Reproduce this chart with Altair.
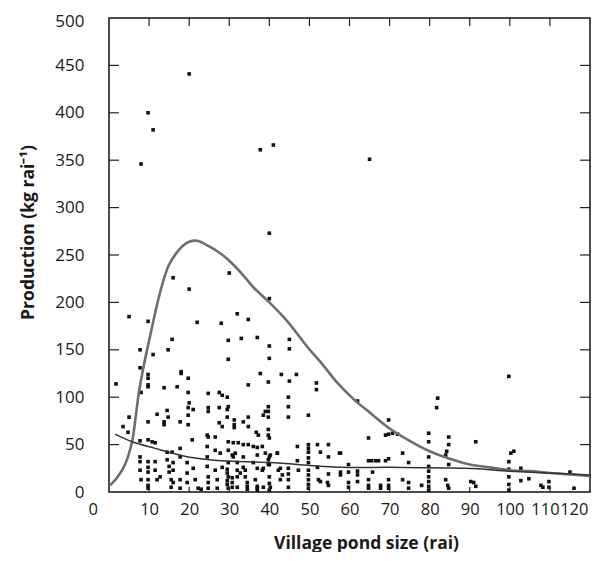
import altair as alt
import pandas as pd

# ---- data ----
pond_x = [20, 9.75, 11, 8, 37.75, 41, 40, 65,
          16, 30, 20, 40, 5, 9.75, 22, 28, 32, 34.75, 15.75, 29.75, 33, 37, 40, 45, 45, 7.75, 14.75, 11, 7.75,
          29.75, 40, 18, 18, 19.75, 37.75, 43, 46.75, 9.75, 9.75, 9.75, 9.75, 1.75, 8, 13.75, 17, 19.75, 24.75,
          27.5, 28.25, 29.5, 34.75, 39.75, 45, 44.75, 51.75, 51.75, 20, 19.75, 19.75, 14.5, 14.75, 12, 5, 3.5,
          4.75, 9.75, 13.75, 13.75, 17.75, 19.75, 21, 24.75, 24.75, 27.5, 27.5, 28.25, 29.5, 29.5, 29.75, 31.25,
          31.25, 31.25, 33.5, 34.75, 34.75, 39, 39.75, 39.75, 39.75, 38.5, 44.75, 44.75, 49.75, 36.75, 37.25,
          39.75, 39.75, 40, 24.5, 24.75, 26.5, 20.75, 29.75, 31, 32.25, 33.5, 36, 38.25, 7.75, 9.75, 10.75, 11.5,
          14.5, 15.75, 17.75, 47, 49.75, 49.75, 49.75, 52, 54.75, 54.75, 57.5, 52.75, 34.75, 37, 37, 39, 40.25,
          42, 39.75, 39.75, 30.75, 31, 47, 49.75,
          82, 81.75, 62, 69.75, 69, 69.75, 70.75, 72, 64.75, 79.75, 79.75, 84.75, 84.75, 84.25, 57.75, 73.25,
          64.75, 65.5, 66.5, 67.25, 69, 69.75, 79.75, 84, 59.75, 74.75, 91.5, 99.75, 100.25, 101, 84.75,
          7.75, 7.75, 7.75, 8, 9.75, 9.75, 9.75, 9.75, 9.75, 9.75, 11.5, 11.5, 12, 12.75, 14.5, 15, 15, 15.5,
          15.5, 16, 16, 16, 17.75, 17.75, 17.75, 19.5, 19.5, 19.5, 21, 21.5, 22.25, 23, 24.5, 24.5, 24.5, 24.75,
          24.75, 24.75, 26.5, 26.5, 27, 27, 27.75, 28.25, 29.75, 29.75, 29.75, 29.75, 29.5, 29.5, 29.5, 29.5,
          31.5, 32, 32, 32, 33.5, 34, 34.5, 34.5, 34.5, 36, 36.5, 37, 37, 37, 38.25, 38.5, 40, 40, 40, 40.25, 40,
          40, 42, 42.25, 42.75, 43.25, 44.75, 44.75, 44.75, 44.75, 47.25, 49.75, 49.75, 49.75, 49.75, 49.75,
          49.75, 52, 52.25, 52.75, 54.5, 54.75, 54.75, 32.75, 33.5, 34, 37, 38.5, 42.75, 30.75, 30.75, 30.75, 32,
          57.75, 57.75, 59.75, 62, 62, 62, 65.75, 59.75, 59.75, 64.75, 64.75, 64.75, 67.75, 67.75, 69.75, 69.75,
          69.75, 73.25, 74.75, 74.75, 78, 79.75, 79.75, 79.75, 79.75, 79.75, 79.75, 84, 84.5, 84.75, 90.25, 91,
          91.5, 99.75, 99.75, 99.75, 99.75, 99.75, 102.75, 102.75, 104.75, 107.75, 108.25, 109.75, 109.75, 115,
          116]
production = [441, 400, 382, 346, 361, 366, 273, 351,
              226, 231, 214, 204, 185, 180, 179, 178, 188, 182, 161, 160, 162, 163, 154, 161, 151, 150, 150, 145,
              131, 140, 141, 127, 125, 120, 125, 124, 124, 124, 120, 113, 111, 114, 105, 110, 111, 105, 104,
              105, 102, 100, 113, 116, 117, 100, 115, 108, 94, 89, 81, 86, 79, 82, 79, 69,
              63, 74, 74, 71, 74, 71, 87, 89, 85, 89, 73, 69, 79, 87, 90, 76,
              71, 68, 74, 69, 79, 85, 90, 85, 79, 81, 90, 79, 81, 63, 60,
              66, 60, 57, 60, 58, 58, 55, 53, 52, 52, 50, 48, 48, 54, 55, 53, 52,
              42, 42, 46, 48, 50, 46, 42, 50, 50, 37, 41, 42, 50, 47, 39, 41, 39,
              41, 34, 29, 39, 37, 33, 31,
              99, 89, 96, 76, 60, 61, 62, 61, 57, 62, 53, 58, 50, 43, 41, 41,
              33, 33, 33, 33, 33, 35, 37, 39, 29, 31, 53, 122, 41, 43, 29,
              37, 32, 23, 13, 32, 26, 21, 13, 7, 4, 32, 23, 13, 16, 34, 27, 21, 13,
              5, 31, 23, 10, 37, 13, 4, 31, 20, 10, 25, 13, 4, 3, 48, 37, 27, 16,
              10, 4, 44, 23, 13, 4, 41, 26, 44, 31, 16, 4, 24, 20, 8, 12,
              41, 31, 16, 5, 37, 23, 10, 3, 6, 31, 13, 4, 2, 6, 23, 5, 37, 29, 16, 5, 9,
              2, 41, 23, 13, 18, 25, 13, 5, 19, 23, 36, 23, 13, 4, 8,
              18, 26, 13, 11, 10, 7, 19, 20, 26, 16, 25, 25, 25, 15, 10, 5, 23,
              21, 18, 21, 22, 18, 11, 21, 10, 5, 13, 7, 4, 7, 4, 13, 7,
              4, 13, 10, 4, 7, 27, 22, 16, 11, 6, 2, 13, 7, 4, 11, 10,
              6, 32, 24, 16, 8, 2, 25, 12, 14, 7, 5, 11, 5, 21,
              4]

upper_x = [0.25, 2, 4, 5.75, 6.5, 7.5, 9, 10.75, 12, 13.5, 15, 17, 18.5, 20, 22, 25, 28, 30, 33, 36, 40,
           44.5, 49.5, 53, 57, 61, 65, 70, 75, 80, 85, 90, 95, 100, 105, 110, 120]
upper_y = [7, 15, 29, 53, 74, 106, 140, 174, 198, 222, 240, 253, 260, 264, 265, 259, 251, 244, 231, 216, 200,
           180, 153, 136, 115, 98, 84, 67, 54, 43, 35, 29, 26, 23, 22, 20, 17]

lower_x = [1.5, 5.75, 11.5, 15.75, 19.75, 28, 40, 58, 70, 89, 100, 110, 120]
lower_y = [61, 53, 46, 41, 37, 33, 31, 26, 26, 25, 22, 20, 18]

x_ticks = [10, 20, 30, 40, 50, 60, 70, 80, 90, 100, 110]
y_ticks = [50, 100, 150, 200, 250, 300, 350, 400, 450]
x_labels = [0, 10, 20, 30, 40, 50, 60, 70, 80, 90, 100, 110, 120]
y_labels = [0, 50, 100, 150, 200, 250, 300, 350, 400, 450, 500]

W, H = 481, 474
FONT = "Open Sans"

pts = pd.DataFrame({"x": pond_x, "y": production})
up = pd.DataFrame({"x": upper_x, "y": upper_y})
lo = pd.DataFrame({"x": lower_x, "y": lower_y})
xt = pd.DataFrame({"x": x_ticks})
yt = pd.DataFrame({"y": y_ticks})

xs = alt.Scale(domain=[0, 120], nice=False, zero=False)
ys = alt.Scale(domain=[0, 500], nice=False, zero=False)

# labelFlush is on: "0" is left-aligned at 0 and "120" right-aligned at 120
x_axis = alt.Axis(
    values=x_labels, title="Village pond size (rai)", labelPadding=9, labelOverlap=False,
    labelFontSize=16.5, labelFlush=True,
    labelOffset={"expr": "datum.value == 0 ? -21 : datum.value == 120 ? -2 : datum.value == 110 ? -5 : 0"},
    titleX=257, titleY=56, titleBaseline="alphabetic", titleAnchor="middle")
y_axis = alt.Axis(
    values=y_labels, title="Production (kg rai⁻¹)", labelPadding=25, labelOverlap=False,
    labelOffset={"expr": "datum.value == 500 ? 3 : 0"},
    titleX=-76, titleY=214, titleBaseline="alphabetic", titleAnchor="middle")

scatter = alt.Chart(pts).mark_square(size=13, color="#111111", opacity=1).encode(
    x=alt.X("x:Q", scale=xs, axis=x_axis),
    y=alt.Y("y:Q", scale=ys, axis=y_axis),
)

upper = alt.Chart(up).mark_line(color="#6e6e6e", strokeWidth=2.6, interpolate="catmull-rom").encode(
    x=alt.X("x:Q", scale=xs), y=alt.Y("y:Q", scale=ys))
lower = alt.Chart(lo).mark_line(color="#333333", strokeWidth=1.5, interpolate="catmull-rom").encode(
    x=alt.X("x:Q", scale=xs), y=alt.Y("y:Q", scale=ys))

tick_style = dict(color="#222222", strokeWidth=1.2)
top_t = alt.Chart(xt).mark_rule(**tick_style).encode(x=alt.X("x:Q", scale=xs), y=alt.value(0), y2=alt.value(8))
bot_t = alt.Chart(xt).mark_rule(**tick_style).encode(x=alt.X("x:Q", scale=xs), y=alt.value(H), y2=alt.value(H - 5))
left_t = alt.Chart(yt).mark_rule(**tick_style).encode(y=alt.Y("y:Q", scale=ys), x=alt.value(0), x2=alt.value(10))
right_t = alt.Chart(yt).mark_rule(**tick_style).encode(y=alt.Y("y:Q", scale=ys), x=alt.value(W), x2=alt.value(W - 10))

chart = alt.layer(scatter, upper, lower, top_t, bot_t, left_t, right_t).properties(
    width=W, height=H,
    autosize=alt.AutoSizeParams(type="none"),
    padding={"left": 101, "top": 10, "right": 4, "bottom": 60},
    background="white",
).configure_view(
    stroke="#111111", strokeWidth=1.5
).configure_axis(
    ticks=False, domain=False, grid=False,
    labelFont=FONT, labelFontSize=17, labelColor="#1a1a1a",
    titleFont=FONT, titleFontSize=17.5, titleFontWeight="bold", titleColor="#1a1a1a",
)

chart.save("out.html", embed_options={"renderer": "svg", "actions": False})
